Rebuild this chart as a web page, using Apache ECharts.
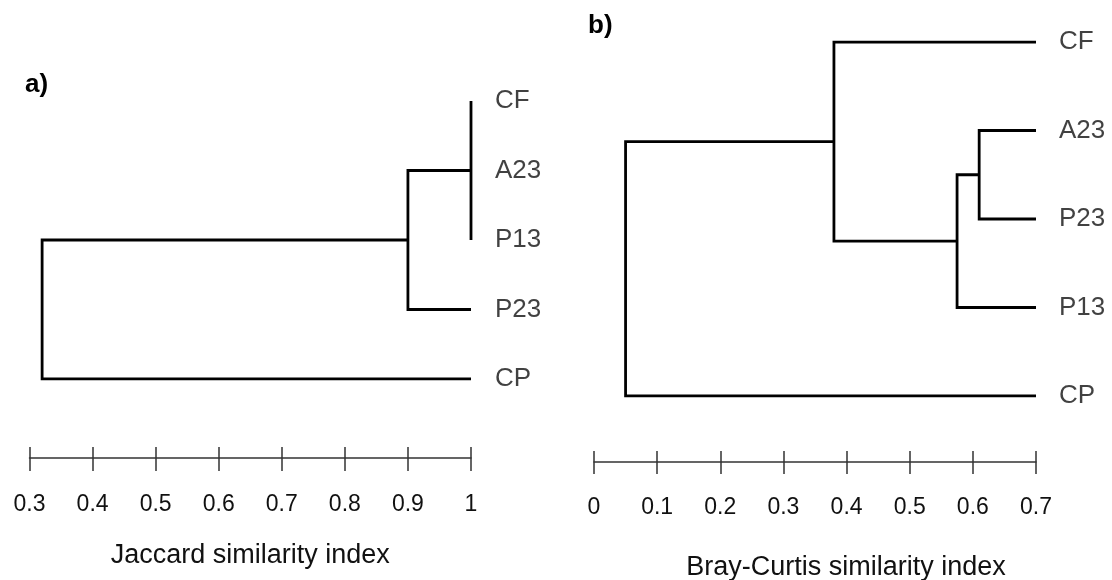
<!DOCTYPE html>
<html>
<head>
<meta charset="utf-8">
<script src="https://cdn.jsdelivr.net/npm/echarts@6/dist/echarts.min.js"></script>
<style>html,body{margin:0;padding:0;background:#fff}#c{width:1112px;height:580px}</style>
</head>
<body>
<div id="c"></div>
<script>
// ---- data ----
const leavesA = ['CF', 'A23', 'P13', 'P23', 'CP'];
const leafValueA = 1.0;
const mergeChildrenA = [['CF', 'A23', 'P13'], ['n0', 'P23'], ['n1', 'CP']];
const mergeHeightsA = [1.0, 0.9, 0.32];
const ticksA = [0.3, 0.4, 0.5, 0.6, 0.7, 0.8, 0.9, 1];
const axisTitleA = 'Jaccard similarity index';

const leavesB = ['CF', 'A23', 'P23', 'P13', 'CP'];
const leafValueB = 0.7;
const mergeChildrenB = [['A23', 'P23'], ['n0', 'P13'], ['CF', 'n1'], ['n2', 'CP']];
const mergeHeightsB = [0.61, 0.575, 0.38, 0.05];
const ticksB = [0, 0.1, 0.2, 0.3, 0.4, 0.5, 0.6, 0.7];
const axisTitleB = 'Bray-Curtis similarity index';

// ---- build dendrogram segments ----
function buildTree(leaves, leafVal, children, heights) {
  const pos = {};
  leaves.forEach((n, i) => { pos[n] = { h: leafVal, y: i }; });
  const paths = [];
  children.forEach((ch, k) => {
    const h = heights[k];
    const ys = ch.map(c => pos[c].y);
    const y = ys.reduce((a, b) => a + b, 0) / ys.length;
    const first = pos[ch[0]], last = pos[ch[ch.length - 1]];
    // one bracket: first child -> node height -> last child
    paths.push({ coords: [[first.h, first.y], [h, first.y], [h, last.y], [last.h, last.y]] });
    // middle children: horizontal to the bracket
    ch.slice(1, -1).forEach(c => {
      if (pos[c].h !== h) paths.push({ coords: [[pos[c].h, pos[c].y], [h, pos[c].y]] });
    });
    pos['n' + k] = { h: h, y: y };
  });
  const labels = leaves.map((n, i) => ({ name: n, value: [leafVal, i] }));
  return { paths, labels };
}
const tA = buildTree(leavesA, leafValueA, mergeChildrenA, mergeHeightsA);
const tB = buildTree(leavesB, leafValueB, mergeChildrenB, mergeHeightsB);

const FONT = '"Liberation Sans", Arial, sans-serif';
const TXT = '#111';
const AX = { color: '#333', width: 1.5 };

function range(ticks) {
  return { min: ticks[0], max: ticks[ticks.length - 1], interval: 0.1 };
}
// tree grid's x axis draws the axis line (offset below the tree);
// a thin axis grid's x axis draws ticks crossing that line, labels and name
function xAxes(treeGrid, axisGrid, ticks, title, lineOffset, tickLen, nameGap, namePad) {
  return [
    Object.assign({ gridIndex: treeGrid, type: 'value', position: 'bottom', offset: lineOffset,
      splitLine: { show: false },
      axisLine: { show: true, onZero: false, lineStyle: AX },
      axisTick: { show: false },
      axisLabel: { show: false } }, range(ticks)),
    Object.assign({ gridIndex: axisGrid, type: 'value', position: 'bottom',
      splitLine: { show: false },
      axisLine: { show: false, onZero: false },
      axisTick: { show: true, inside: true, length: tickLen, lineStyle: AX },
      name: title, nameLocation: 'middle', nameGap,
      nameTextStyle: { fontFamily: FONT, fontSize: 27, color: TXT, padding: namePad },
      axisLabel: { show: true, margin: 22, fontFamily: FONT, fontSize: 23, color: TXT,
        formatter: v => String(+v.toFixed(1)) } }, range(ticks))
  ];
}

const option = {
  animation: false,
  backgroundColor: '#fff',
  title: [
    { text: 'a)', left: 20, top: 67, textStyle: { fontFamily: FONT, fontSize: 26, fontWeight: 'bold', color: '#000' } },
    { text: 'b)', left: 583, top: 8, textStyle: { fontFamily: FONT, fontSize: 26, fontWeight: 'bold', color: '#000' } }
  ],
  grid: [
    { left: 29.5, top: 101, width: 441.5, height: 278, outerBoundsMode: 'none' },
    { left: 29.5, top: 458, width: 441.5, height: 13, outerBoundsMode: 'none' },
    { left: 594, top: 42, width: 442, height: 354, outerBoundsMode: 'none' },
    { left: 594, top: 462, width: 442, height: 12, outerBoundsMode: 'none' }
  ],
  xAxis: [].concat(
    xAxes(0, 1, ticksA, axisTitleA, 79, 24, 71, [0, 0, 0, 0]),
    xAxes(2, 3, ticksB, axisTitleB, 66, 23, 80, [0, 0, 0, 62])
  ),
  yAxis: [
    { gridIndex: 0, type: 'value', min: 0, max: 4, inverse: true, show: false },
    { gridIndex: 1, type: 'value', min: 0, max: 1, show: false },
    { gridIndex: 2, type: 'value', min: 0, max: 4, inverse: true, show: false },
    { gridIndex: 3, type: 'value', min: 0, max: 1, show: false }
  ],
  series: [
    { type: 'lines', coordinateSystem: 'cartesian2d', xAxisIndex: 0, yAxisIndex: 0, polyline: true,
      lineStyle: { color: '#000', width: 2.8, opacity: 1, cap: 'butt', join: 'miter' }, data: tA.paths, silent: true },
    { type: 'lines', coordinateSystem: 'cartesian2d', xAxisIndex: 2, yAxisIndex: 2, polyline: true,
      lineStyle: { color: '#000', width: 2.8, opacity: 1, cap: 'butt', join: 'miter' }, data: tB.paths, silent: true },
    { type: 'scatter', xAxisIndex: 0, yAxisIndex: 0, symbolSize: 0, data: tA.labels, silent: true,
      label: { show: true, position: 'right', distance: 24, formatter: p => p.name,
        fontFamily: FONT, fontSize: 26, color: TXT } },
    { type: 'scatter', xAxisIndex: 2, yAxisIndex: 2, symbolSize: 0, data: tB.labels, silent: true,
      label: { show: true, position: 'right', distance: 23, formatter: p => p.name,
        fontFamily: FONT, fontSize: 26, color: TXT } }
  ]
};
const chart = echarts.init(document.getElementById('c'), null, { renderer: 'canvas' });
chart.setOption(option);
</script>
</body>
</html>
